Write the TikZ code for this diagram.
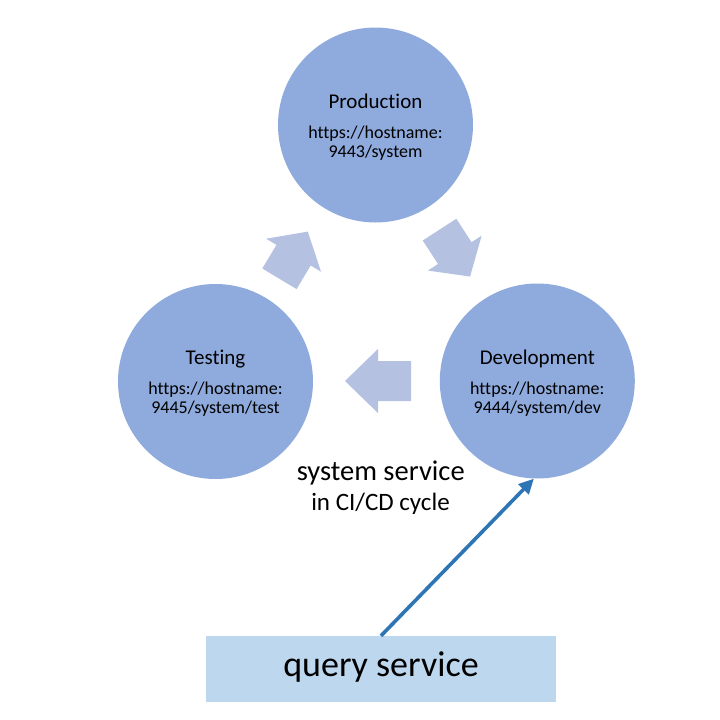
\documentclass[tikz,border=0pt]{standalone}
\usepackage{fontspec}
\setmainfont[Ligatures=NoCommon]{Carlito}
\usetikzlibrary{arrows.meta,calc}
\definecolor{circ}{HTML}{8FAADC}
\definecolor{blk}{HTML}{B4C1E1}
\definecolor{qboxc}{HTML}{BDD7EE}
\definecolor{qarr}{HTML}{2E75B6}
\newcommand{\blkarrow}[4]{%
  \fill[blk, shift={(#1,#2)}, rotate=#3] (-#4,-20) -- (0,-20) -- (0,-32) -- (#4,0) -- (0,32) -- (0,20) -- (-#4,20) -- cycle;}
\begin{document}
\begin{tikzpicture}[x=1pt,y=-1pt,
  stage/.style={circle, fill=circ, minimum size=195pt, inner sep=0pt},
  ttl/.style={anchor=base, inner sep=0pt, font=\fontsize{21}{24}\selectfont},
  url/.style={anchor=base, inner sep=0pt, font=\fontsize{18}{20}\selectfont},
  qbox/.style={rectangle, fill=qboxc, minimum width=350pt, minimum height=66pt, inner sep=0pt,
    text height=25.4pt, text depth=10pt, font=\fontsize{36}{40}\selectfont},
  qarrow/.style={draw=qarr, line width=3.6pt, -{Triangle[length=15pt,width=14pt]}}
]
\useasboundingbox (0,0) rectangle (720,720);
\fill[white] (0,0) rectangle (720,720);

% stages
\node[stage] (prod) at (375.5,125) {};
\node[stage] (test) at (215.5,381.5) {};
\node[stage] (dev)  at (537.3,381) {};

\node[ttl] (prodT) at ($(prod.center)+(0,-16.5)$) {Production};
\node[url] (prodU1) at ($(prod.center)+(0,13)$) {https://hostname:};
\node[url] (prodU2) at ($(prod.center)+(0,32)$) {9443/system};

\node[ttl] (testT) at ($(test.center)+(0,-17)$) {Testing};
\node[url] (testU1) at ($(test.center)+(0,13)$) {https://hostname:};
\node[url] (testU2) at ($(test.center)+(0,32)$) {9445/system/test};

\node[ttl] (devT) at ($(dev.center)+(0,-17)$) {Development};
\node[url] (devU1) at ($(dev.center)+(0,13)$) {https://hostname:};
\node[url] (devU2) at ($(dev.center)+(0,32)$) {9444/system/dev};

% cycle block arrows
\blkarrow{293.6}{255.2}{59}{27.5}
\blkarrow{454.8}{253.1}{-57}{28}
\blkarrow{378}{381}{180}{33}

% caption
\node[anchor=base, inner sep=0pt, font=\fontsize{28.5}{32}\selectfont] (cap1) at (380.7,480) {system service};
\node[anchor=base, inner sep=0pt, font=\fontsize{25}{28}\selectfont] (cap2) at (380.5,510.7) {in CI/CD cycle};

% query service
\node[qbox] (q) at (381,669) {query service};
\draw[qarrow] (q.north) -- (dev.268);
\end{tikzpicture}
\end{document}
